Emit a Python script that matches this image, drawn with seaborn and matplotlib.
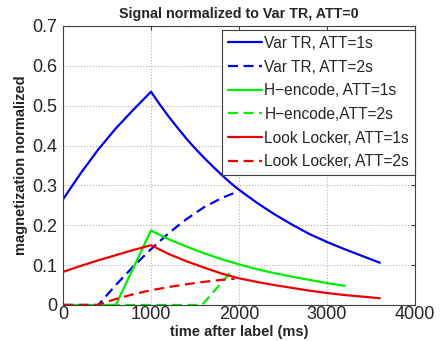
#!/usr/bin/env python3
# Signal normalized to Var TR: magnetization curves vs time after label

import matplotlib
matplotlib.use("Agg")

import pandas as pd
import seaborn as sns
from matplotlib import pyplot as plt

# -------------------------------------------------------------------
# DATA
# -------------------------------------------------------------------

vartr_1s_t = [0, 200, 400, 600, 800, 1000, 1100, 1200, 1300, 1400, 1500,
              1600, 1700, 1800, 1900, 2000, 2200, 2400, 2600, 2800, 3000,
              3200, 3400, 3600]
vartr_1s_y = [0.265, 0.33, 0.39, 0.443, 0.49, 0.535, 0.503, 0.473, 0.445,
              0.418, 0.393, 0.370, 0.348, 0.327, 0.307, 0.289, 0.257, 0.228,
              0.202, 0.178, 0.158, 0.140, 0.123, 0.106]

vartr_2s_t = [0, 400, 600, 800, 1000, 1200, 1400, 1600, 1800, 1990]
vartr_2s_y = [0, 0, 0.05, 0.097, 0.14, 0.18, 0.215, 0.245, 0.268, 0.285]

henc_1s_t = [0, 600, 1000, 1100, 1200, 1300, 1400, 1600, 1800, 2000, 2200,
             2400, 2600, 2800, 3000, 3200]
henc_1s_y = [0, 0, 0.187, 0.176, 0.165, 0.156, 0.147, 0.130, 0.115, 0.102,
             0.090, 0.080, 0.071, 0.063, 0.055, 0.048]

henc_2s_t = [0, 1580, 1920]
henc_2s_y = [0, 0, 0.086]

ll_1s_t = [0, 200, 400, 600, 800, 1000, 1100, 1200, 1300, 1400, 1600, 1800,
           2000, 2200, 2400, 2600, 2800, 3000, 3200, 3400, 3600]
ll_1s_y = [0.083, 0.098, 0.112, 0.125, 0.138, 0.15, 0.139, 0.128, 0.119,
           0.110, 0.094, 0.079, 0.067, 0.058, 0.050, 0.043, 0.036, 0.030,
           0.025, 0.021, 0.017]

ll_2s_t = [0, 390, 500, 600, 800, 1000, 1200, 1400, 1600, 1800, 1950]
ll_2s_y = [0, 0, 0.008, 0.015, 0.027, 0.037, 0.045, 0.052, 0.058, 0.063,
           0.066]

labels = [
    "Var TR, ATT=1s",
    "Var TR, ATT=2s",
    "H\u2212encode, ATT=1s",
    "H\u2212encode,ATT=2s",
    "Look Locker, ATT=1s",
    "Look Locker, ATT=2s",
]

x_ticks = [0, 1000, 2000, 3000, 4000]
y_ticks = [0, 0.1, 0.2, 0.3, 0.4, 0.5, 0.6, 0.7]
y_tick_labels = ["0", "0.1", "0.2", "0.3", "0.4", "0.5", "0.6", "0.7"]

# -------------------------------------------------------------------
# PLOTTING
# -------------------------------------------------------------------

sns.set_style("whitegrid", {
    "grid.linestyle": ":",
    "grid.color": "#b0b0b0",
    "axes.edgecolor": "#404040",
    "xtick.direction": "in",
    "ytick.direction": "in",
})
plt.rcParams["font.family"] = ["Liberation Sans", "DejaVu Sans"]

series = [
    (vartr_1s_t, vartr_1s_y, "#0000ee", "-"),
    (vartr_2s_t, vartr_2s_y, "#0000ee", "--"),
    (henc_1s_t, henc_1s_y, "#00ee00", "-"),
    (henc_2s_t, henc_2s_y, "#00ee00", "--"),
    (ll_1s_t, ll_1s_y, "#ee0000", "-"),
    (ll_2s_t, ll_2s_y, "#ee0000", "--"),
]

fig = plt.figure(figsize=(4.42, 3.41), dpi=100)
ax = fig.add_axes([0.1425, 0.1056, 0.7965, 0.8182])

for (t, y, color, ls), label in zip(series, labels):
    df = pd.DataFrame({"t": t, "y": y})
    sns.lineplot(data=df, x="t", y="y", color=color, linewidth=1.6,
                 label=label, ax=ax)
    if ls == "--":
        ax.lines[-1].set_dashes((4.5, 2.5))

ax.set_xlim(0, 4000)
ax.set_ylim(0, 0.7)
ax.set_xticks(x_ticks)
ax.set_yticks(y_ticks)
ax.set_yticklabels(y_tick_labels)
ax.tick_params(axis="both", labelsize=13, length=3, color="#404040",
               top=True, right=True)
ax.tick_params(axis="x", pad=1)
ax.tick_params(axis="y", pad=4)
for side in ax.spines.values():
    side.set_linewidth(0.8)

ax.set_xlabel("time after label (ms)", fontsize=10.5, fontweight="bold",
              labelpad=1)
ax.set_ylabel("magnetization normalized", fontsize=10.5, fontweight="bold",
              labelpad=3)
ax.set_title("Signal normalized to Var TR, ATT=0", fontsize=10.3,
             fontweight="bold", pad=6)

leg = ax.legend(loc="upper right", bbox_to_anchor=(1.0, 0.986),
                fontsize=11.2, frameon=True, fancybox=False, framealpha=1,
                edgecolor="#404040", handlelength=2.2, handletextpad=0.15,
                labelspacing=0.56, borderpad=0.38, borderaxespad=0)
leg.get_frame().set_linewidth(0.8)

fig.savefig("out.png", dpi=100)
